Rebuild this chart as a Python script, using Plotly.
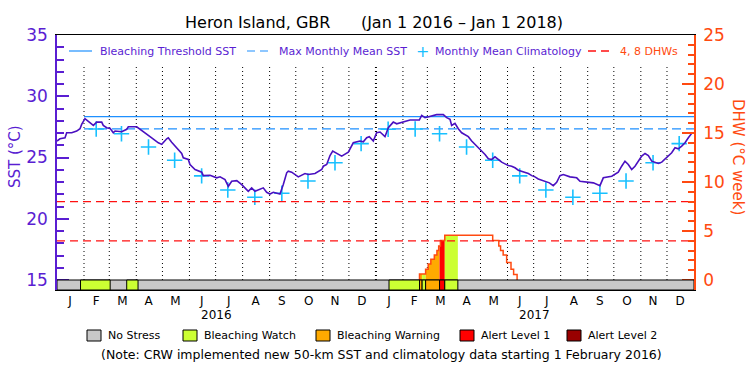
import plotly.graph_objects as go
import pandas as pd

# ---------------- data ----------------
# SST (deg C), day offsets from 2016-01-01
sst_day = [0, 3.4, 9.2, 11.1, 16.9, 22.6, 26.4, 28.3, 32.1, 35.9, 39.8, 41.7, 45.6, 51.3, 53.1, 57.0,
           60.8, 64.6, 66.6, 74.2, 80.0, 81.8, 91.5, 95.2, 101, 108.7, 116.3, 120.2, 125.9, 127.7,
           131.6, 135.4, 139.2, 143.1, 144.9, 150.7, 152.6, 158.4, 166.1, 167.9, 175.6, 183.3, 187.1,
           192.8, 196.6, 200.5, 206.3, 212, 219.5, 223.4, 227.2, 234.9, 236.7, 240.6, 244.4, 248.2,
           255.9, 259.7, 263.6, 265.4, 269.3, 276.9, 284.6, 288.4, 296.1, 303.8, 305.6, 309.5, 313.3,
           316.4, 322.8, 326.7, 334.3, 338.2, 340, 347.7, 351.5, 355.4, 358.4, 363, 366.8, 370.7,
           376.4, 380.2, 385.9, 389.8, 397.4, 405.1, 415.8, 418.5, 422.3, 430, 435.7, 443.3, 447.2,
           451, 452.9, 456.7, 460.5, 464.4, 468.2, 472, 475.9, 479.7, 483.5, 487.4, 491.2, 495,
           498.9, 502.6, 506.4, 510.3, 514.1, 517.9, 521.8, 525.6, 529.4, 533.3, 537.1, 540.9,
           544.8, 548.5, 552.3, 556.2, 560, 565, 569.5, 573.4, 577.2, 581, 588.7, 596.4, 600.2,
           611.7, 615.5, 623.1, 625.1, 626.9, 636.6, 640.4, 644.1, 648, 651.8, 655.6, 659.5, 663.3,
           667.1, 671, 674.8, 678.6, 682.5, 690.1, 694, 697.7, 701.5, 705.4, 709.2, 713, 716.9,
           720.7, 724.5, 728.4, 730.2]
sst_val = [26.34, 26.53, 26.61, 27.02, 27.02, 27.16, 27.35, 27.70, 28.17, 27.98, 27.79, 27.62, 27.89,
           27.89, 27.62, 27.43, 27.38, 27.02, 27.16, 27.10, 27.30, 27.51, 27.51, 27.30, 27.02, 26.61,
           26.20, 26.07, 26.53, 26.61, 26.25, 25.93, 25.60, 25.33, 24.97, 24.84, 24.43, 24.02, 23.80,
           23.52, 23.55, 23.34, 23.42, 23.20, 22.65, 23.06, 23.11, 22.79, 22.24, 22.52, 22.24, 22.43,
           22.52, 22.16, 22.02, 22.16, 22.02, 22.79, 23.75, 23.88, 23.80, 23.42, 23.69, 23.61, 23.69,
           24.02, 24.29, 24.43, 25.16, 25.52, 25.25, 25.11, 25.44, 25.93, 26.20, 26.34, 26.28, 26.61,
           26.70, 26.34, 27.02, 27.08, 26.70, 27.43, 27.89, 27.75, 27.89, 28.06, 28.06, 28.44, 28.25,
           28.39, 28.50, 28.50, 28.25, 28.11, 27.62, 27.79, 27.35, 27.02, 26.89, 26.70, 26.34, 26.07,
           25.80, 25.52, 25.25, 24.89, 24.84, 25.06, 24.84, 24.62, 24.48, 24.34, 24.29, 24.16, 23.96,
           23.88, 23.75, 23.69, 23.52, 23.42, 23.25, 23.14, 23.06, 22.93, 22.70, 22.98, 23.52, 23.61,
           23.42, 23.34, 23.06, 22.98, 22.93, 22.70, 22.98, 23.34, 23.47, 23.61, 23.80, 24.29, 24.70,
           24.43, 24.02, 24.29, 24.70, 25.11, 25.33, 25.16, 24.70, 24.51, 24.62, 24.89, 25.11, 25.39,
           25.80, 25.71, 25.93, 26.20, 26.61, 26.97, 27.02]

# Monthly mean climatology (mid-month), Feb 2016 .. Dec 2017
clim_date = ["2016-02-15", "2016-03-15", "2016-04-15", "2016-05-15", "2016-06-15", "2016-07-15",
             "2016-08-15", "2016-09-15", "2016-10-15", "2016-11-15", "2016-12-15",
             "2017-01-15", "2017-02-15", "2017-03-15", "2017-04-15", "2017-05-15", "2017-06-15",
             "2017-07-15", "2017-08-15", "2017-09-15", "2017-10-15", "2017-11-15", "2017-12-15"]
clim_val = [27.33, 26.94, 25.86, 24.78, 23.50, 22.35, 21.76, 22.08, 23.08, 24.57, 26.13,
            27.30, 27.33, 26.94, 25.86, 24.78, 23.50, 22.35, 21.76, 22.08, 23.08, 24.57, 26.13]

mmm = 27.33
bleach_threshold = 28.33
threshold_start = "2016-02-01"
period_start = "2016-01-01"
period_end = "2018-01-01"

# Degree heating weeks (step values)
dhw_date = ["2017-02-20", "2017-02-20", "2017-02-27", "2017-03-02", "2017-03-05", "2017-03-09",
            "2017-03-12", "2017-03-14", "2017-03-16", "2017-03-21", "2017-05-15", "2017-05-22",
            "2017-05-24", "2017-05-27", "2017-05-31", "2017-06-05", "2017-06-08", "2017-06-12"]
dhw_val = [0, 0.61, 1.09, 1.64, 2.12, 2.56, 3.0, 3.48, 4.03, 4.56, 4.03, 3.48,
           3.0, 2.56, 1.78, 1.09, 0.55, 0]
dhw_levels = [4, 8]

# Stress level periods (bottom bar)
stress_start = ["2016-01-28", "2016-03-21", "2017-01-16", "2017-02-20", "2017-02-23",
                "2017-02-27", "2017-03-15", "2017-03-21"]
stress_end = ["2016-03-02", "2016-04-03", "2017-02-20", "2017-02-23", "2017-02-27",
              "2017-03-15", "2017-03-21", "2017-04-05"]
stress_level = ["Bleaching Watch", "Bleaching Watch", "Bleaching Watch", "Bleaching Warning",
                "Bleaching Watch", "Bleaching Warning", "Alert Level 1", "Bleaching Watch"]

stress_names = ["No Stress", "Bleaching Watch", "Bleaching Warning", "Alert Level 1", "Alert Level 2"]
stress_colors = {"No Stress": "#c8c8c8", "Bleaching Watch": "#ccff33",
                 "Bleaching Warning": "#ffaa00", "Alert Level 1": "#ff0000",
                 "Alert Level 2": "#990000"}

month_mid = ["2016-01-16", "2016-02-15", "2016-03-16", "2016-04-15", "2016-05-16", "2016-06-15",
             "2016-07-16", "2016-08-16", "2016-09-15", "2016-10-16", "2016-11-15", "2016-12-16",
             "2017-01-16", "2017-02-14", "2017-03-16", "2017-04-15", "2017-05-16", "2017-06-15",
             "2017-07-16", "2017-08-16", "2017-09-15", "2017-10-16", "2017-11-15", "2017-12-16"]
month_text = ["J", "F", "M", "A", "M", "J", "J", "A", "S", "O", "N", "D"] * 2
year_pos = ["2016-07-02", "2017-07-02"]
year_text = ["2016", "2017"]

# ---------------- style ----------------
FONT = "DejaVu Sans"
PURPLE = "#5a1ed2"
SSTLINE = "#4a10c0"
BLUE = "#1e90ff"
CYAN = "#18c0ff"
ORANGE = "#ff4a10"
RED = "#ff1010"

W, H = 750, 375
L, R, T, B = 57, 694, 35, 290
pw, ph = R - L, B - T
BAR_PX = 10
y_min = 15 - BAR_PX * 20 / (ph - BAR_PX)
y2_min = 0 - BAR_PX * 25 / (ph - BAR_PX)


def px(x):
    return (x - L) / pw


def py(y):
    return (B - y) / ph


def note(text, x, y, size, color, xanchor="center", angle=0, xref="paper"):
    return dict(text=text, x=x, y=y, xref=xref, yref="paper", showarrow=False,
                xanchor=xanchor, yanchor="middle", textangle=angle,
                font=dict(family=FONT, size=size, color=color))


sst_dates = pd.Timestamp(period_start) + pd.to_timedelta(sst_day, unit="D")

fig = go.Figure()

# DHW colored fill under the step curve
dhw_ts = pd.to_datetime(dhw_date)


def dhw_at(t):
    v = 0.0
    for d, val in zip(dhw_ts, dhw_val):
        if d <= t:
            v = val
    return v


for s, e, lev in zip(stress_start, stress_end, stress_level):
    a, b = pd.Timestamp(s), pd.Timestamp(e)
    xs, ys = [a, a], [0, dhw_at(a)]
    for d in sorted(set(dhw_ts)):
        if a < d < b:
            xs += [d, d]
            ys += [ys[-1], dhw_at(d)]
    xs += [b, b]
    ys += [ys[-1], 0]
    fig.add_trace(go.Scatter(x=xs, y=ys, yaxis="y2", fill="toself", mode="lines",
                             line=dict(width=0), fillcolor=stress_colors[lev],
                             hoverinfo="skip", showlegend=False))

# DHW line
fig.add_trace(go.Scatter(x=dhw_date, y=dhw_val, yaxis="y2", mode="lines",
                         line=dict(color=ORANGE, width=1.5, shape="hv"), showlegend=False))

# DHW 4 and 8 lines
for lv in dhw_levels:
    fig.add_trace(go.Scatter(x=[period_start, period_end], y=[lv, lv], yaxis="y2", mode="lines",
                             line=dict(color=RED, width=1.3, dash="8px,5px"), showlegend=False))

# Threshold and MMM lines
fig.add_trace(go.Scatter(x=[threshold_start, period_end], y=[bleach_threshold] * 2, mode="lines",
                         line=dict(color=BLUE, width=1.2), showlegend=False))
fig.add_trace(go.Scatter(x=[threshold_start, period_end], y=[mmm] * 2, mode="lines",
                         line=dict(color=BLUE, width=1.2, dash="9px,5px"), showlegend=False))

# Climatology crosses
fig.add_trace(go.Scatter(x=clim_date, y=clim_val, mode="markers",
                         marker=dict(symbol="cross-thin", size=11, line=dict(color=CYAN, width=1.6)),
                         showlegend=False))

# SST line
fig.add_trace(go.Scatter(x=sst_dates, y=sst_val, mode="lines",
                         line=dict(color=SSTLINE, width=1.6), showlegend=False))

shapes = []
# monthly dotted lines
bounds = pd.date_range("2016-02-01", "2017-12-01", freq="MS")
for d in bounds:
    shapes.append(dict(type="line", xref="x", yref="paper", x0=d, x1=d, y0=py(280), y1=py(66),
                       line=dict(color="black", width=2 if (d.month == 1) else 1, dash="1px,3px"),
                       layer="below"))

# stress bar
shapes.append(dict(type="rect", xref="x", yref="y", x0=period_start, x1=period_end,
                   y0=y_min, y1=15, fillcolor=stress_colors["No Stress"],
                   line=dict(color="black", width=1)))
for s, e, lev in zip(stress_start, stress_end, stress_level):
    shapes.append(dict(type="rect", xref="x", yref="y", x0=s, x1=e, y0=y_min, y1=15,
                       fillcolor=stress_colors[lev], line=dict(color="black", width=1)))

annotations = []
annotations.append(note("Heron Island, GBR      (Jan 1 2016 \u2013 Jan 1 2018)", px(374), py(23),
                        16, "black"))
annotations.append(note("SST (\u00b0C)", px(15), py(157), 15, PURPLE, angle=-90))
annotations.append(note("DHW (\u00b0C week)", px(738), py(157), 15, ORANGE, angle=90))
for xp, t in zip(year_pos, year_text):
    annotations.append(note(t, xp, py(315), 12, "black", xref="x"))

# top legend
leg_y = py(51)
shapes.append(dict(type="line", xref="paper", yref="paper", x0=px(69), x1=px(92), y0=leg_y, y1=leg_y,
                   line=dict(color=BLUE, width=1.2)))
shapes.append(dict(type="line", xref="paper", yref="paper", x0=px(247), x1=px(268), y0=leg_y, y1=leg_y,
                   line=dict(color=BLUE, width=1.2, dash="8px,5px")))
shapes.append(dict(type="line", xref="paper", yref="paper", x0=px(588), x1=px(612), y0=leg_y, y1=leg_y,
                   line=dict(color=RED, width=1.3, dash="8px,5px")))
annotations.append(note("+", px(422.7), leg_y, 16, CYAN))
for x0, t, c in [(98, "Bleaching Threshold SST", PURPLE), (277, "Max Monthly Mean SST", PURPLE),
                 (433, "Monthly Mean Climatology", PURPLE), (618, "4, 8 DHWs", ORANGE)]:
    annotations.append(note(t, px(x0), leg_y, 11, c, xanchor="left"))

# bottom legend
box_x = [87, 183, 316, 460, 567]
for bx, name in zip(box_x, stress_names):
    shapes.append(dict(type="rect", xref="paper", yref="paper", x0=px(bx), x1=px(bx + 14),
                       y0=py(341), y1=py(330), fillcolor=stress_colors[name],
                       line=dict(color="black", width=1)))
    annotations.append(note(name, px(bx + 19), py(335.5), 11, "black", xanchor="left"))
annotations.append(note("(Note: CRW implemented new 50-km SST and climatology data starting 1 February 2016)",
                        px(381), py(354), 12.5, "black"))

fig.update_layout(
    width=W, height=H,
    margin=dict(l=L, r=W - R, t=T, b=H - B, autoexpand=False),
    paper_bgcolor="white", plot_bgcolor="white",
    showlegend=False,
    shapes=shapes, annotations=annotations,
    xaxis=dict(range=[period_start, period_end], showgrid=False, zeroline=False, automargin=False,
               showline=True, linecolor="black", linewidth=1, mirror=True,
               tickvals=month_mid, ticktext=month_text, ticks="", ticklen=0,
               tickfont=dict(family=FONT, size=12, color="black")),
    yaxis=dict(range=[y_min, 35], showgrid=False, zeroline=False, automargin=False,
               showline=True, linecolor=PURPLE, linewidth=1.5,
               tickvals=[15, 20, 25, 30, 35], ticks="inside", ticklen=12, tickwidth=1.5,
               tickcolor=PURPLE, tickfont=dict(family=FONT, size=17, color=PURPLE),
               minor=dict(ticks="inside", ticklen=7, tickwidth=1.5, tickcolor=PURPLE,
                          tickvals=[v for v in range(15, 36) if v % 5]),
               ticklabelstandoff=4),
    yaxis2=dict(range=[y2_min, 25], overlaying="y", side="right", showgrid=False, zeroline=False,
                automargin=False,
                showline=True, linecolor=ORANGE, linewidth=1.5,
                tickvals=[0, 5, 10, 15, 20, 25], ticks="inside", ticklen=12, tickwidth=1.5,
                tickcolor=ORANGE, tickfont=dict(family=FONT, size=17, color=ORANGE),
                minor=dict(ticks="inside", ticklen=6, tickwidth=1.5, tickcolor=ORANGE,
                           tickvals=[v for v in range(0, 26) if v % 5]),
                ticklabelstandoff=4),
)

post = ("document.body.style.margin='0';document.body.style.overflow='hidden';"
        "Plotly.relayout(document.getElementById('{plot_id}'), {width: 750, height: 375});")
fig.write_html("out.html", config={"responsive": False, "displayModeBar": False}, post_script=post)
